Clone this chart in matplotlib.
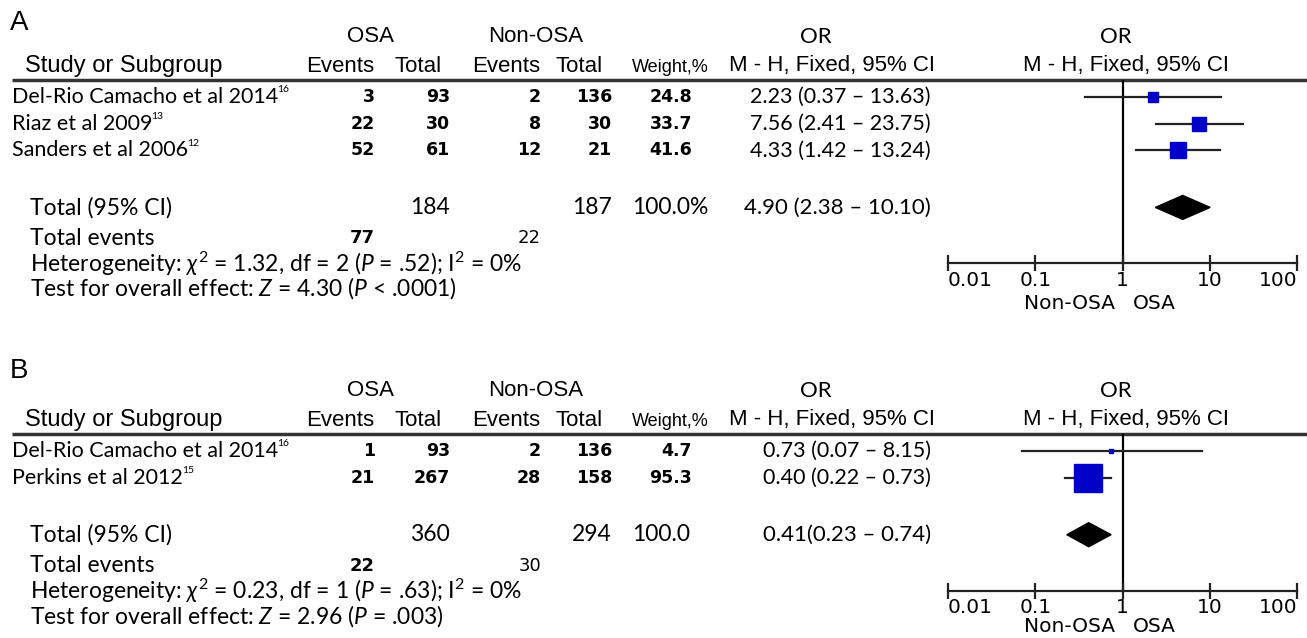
import matplotlib
matplotlib.use("Agg")
import matplotlib.pyplot as plt
import numpy as np

plt.rcParams["mathtext.fontset"] = "custom"
plt.rcParams["mathtext.rm"] = "Lato"
plt.rcParams["mathtext.it"] = "Lato:italic"
plt.rcParams["mathtext.fallback"] = "stixsans"

W, H = 1307, 638

# ---- panel A: OSA vs non-OSA ----
a_studies = ["Del-Rio Camacho et al 2014", "Riaz et al 2009", "Sanders et al 2006"]
a_refs = ["16", "13", "12"]
a_osa_events = [3, 22, 52]
a_osa_total = [93, 30, 61]
a_non_events = [2, 8, 12]
a_non_total = [136, 30, 21]
a_weight = [24.8, 33.7, 41.6]
a_or = [2.23, 7.56, 4.33]
a_lo = [0.37, 2.41, 1.42]
a_hi = [13.63, 23.75, 13.24]
a_tot_n = [184, 187]
a_tot_events = [77, 22]
a_tot_or = [4.90, 2.38, 10.10]
a_het = [1.32, 2, ".52", 0]
a_z = [4.30, "< .0001"]

# ---- panel B ----
b_studies = ["Del-Rio Camacho et al 2014", "Perkins et al 2012"]
b_refs = ["16", "15"]
b_osa_events = [1, 21]
b_osa_total = [93, 267]
b_non_events = [2, 28]
b_non_total = [136, 158]
b_weight = [4.7, 95.3]
b_or = [0.73, 0.40]
b_lo = [0.07, 0.22]
b_hi = [8.15, 0.73]
b_tot_n = [360, 294]
b_tot_events = [22, 30]
b_tot_or = [0.41, 0.23, 0.74]
b_het = [0.23, 1, ".63", 0]
b_z = [2.96, "= .003"]

ticks = [0.01, 0.1, 1, 10, 100]
tick_labels = ["0.01", "0.1", "1", "10", "100"]

HEAD = "Liberation Sans"
BODY = ["Lato", "DejaVu Sans"]
NUM = "DejaVu Sans"
BLUE = "#0000c8"

fig = plt.figure(figsize=(W / 100, H / 100), dpi=100)
bg = fig.add_axes([0, 0, 1, 1])
bg.set_xlim(0, W)
bg.set_ylim(H, 0)
bg.axis("off")
renderer = fig.canvas.get_renderer()


def panel(y0, ylet, letter, studies, refs, oe, ot, ne, nt, wt, orr, lo, hi,
          tot_n, tot_ev, tot_or, het, z, pct, tot_sep):
    # headers
    bg.text(10, ylet, letter, fontsize=20, family=HEAD, va="center")
    bg.text(370, y0 + 14, "OSA", fontsize=16, family=HEAD, ha="center", va="center")
    bg.text(536, y0 + 14, "Non-OSA", fontsize=16, family=HEAD, ha="center", va="center")
    bg.text(816, y0 + 14, "OR", fontsize=16, family=BODY, ha="center", va="center")
    bg.text(1116, y0 + 14, "OR", fontsize=16, family=BODY, ha="center", va="center")
    yh = y0 + 43
    bg.text(25, yh, "Study or Subgroup", fontsize=17, family=HEAD, va="center")
    for x, s in [(340, "Events"), (418, "Total"), (506, "Events"), (579, "Total")]:
        bg.text(x, yh, s, fontsize=16, family=HEAD, ha="center", va="center")
    bg.text(670, yh + 1, "Weight,%", fontsize=13, family=HEAD, ha="center", va="center")
    bg.text(832, yh, "M - H, Fixed, 95% CI", fontsize=16, family=HEAD, ha="center", va="center")
    bg.text(1126, yh, "M - H, Fixed, 95% CI", fontsize=16, family=HEAD, ha="center", va="center")
    yline = y0 + 57
    bg.plot([12, W], [yline, yline], color="#333333", lw=2.5, solid_capstyle="butt")

    # study rows
    rows = [y0 + 74 + i * 26.7 for i in range(len(studies))]
    for y, s, r, a, b, c, d, w, o, l, h in zip(rows, studies, refs, oe, ot, ne, nt, wt, orr, lo, hi):
        t = bg.text(12, y, s, fontsize=15.5, family=BODY, va="center")
        bb = t.get_window_extent(renderer)
        bg.text(bb.x1 - 1, y - 7, r, fontsize=7.5, family=BODY, va="center")
        for x, v in [(375, a), (450, b), (541, c), (612, d)]:
            bg.text(x, y, str(v), fontsize=12.5, family=NUM, weight="bold", ha="right", va="center")
        bg.text(692, y, f"{w:.1f}", fontsize=12.5, family=NUM, weight="bold", ha="right", va="center")
        bg.text(931, y, f"{o:.2f} ({l:.2f} \u2013 {h:.2f})", fontsize=15.5, family=BODY,
                ha="right", va="center")

    # totals
    yt = rows[-1] + 57
    bg.text(30, yt, "Total (95% CI)", fontsize=16.5, family=BODY, va="center")
    bg.text(450, yt, str(tot_n[0]), fontsize=16.5, family=BODY, ha="right", va="center")
    bg.text(612, yt, str(tot_n[1]), fontsize=16.5, family=BODY, ha="right", va="center")
    bg.text(632, yt, "100.0" + pct, fontsize=16.5, family=BODY, ha="left", va="center")
    bg.text(931, yt, f"{tot_or[0]:.2f}{tot_sep}({tot_or[1]:.2f} \u2013 {tot_or[2]:.2f})",
            fontsize=16, family=BODY, ha="right", va="center")
    ye = yt + 31
    bg.text(30, ye, "Total events", fontsize=16.5, family=BODY, va="center")
    bg.text(375, ye, str(tot_ev[0]), fontsize=13, family=NUM, weight="bold", ha="right", va="center")
    bg.text(541, ye, str(tot_ev[1]), fontsize=13, family=NUM, ha="right", va="center")
    yhet = yt + 56
    bg.text(30, yhet, rf"Heterogeneity: $\chi^2$ = {het[0]:.2f}, df = {het[1]} ($P$ = {het[2]}); I$^2$ = {het[3]}%",
            fontsize=16.5, family=BODY, va="center")
    bg.text(30, yt + 81, rf"Test for overall effect: $Z$ = {z[0]:.2f} ($P$ {z[1]})",
            fontsize=16.5, family=BODY, va="center")

    # forest plot, log odds ratio axis
    x0, x1 = 948, 1297
    fa = fig.add_axes([x0 / W, 1 - yhet / H, (x1 - x0) / W, (yhet - yline) / H])
    fa.set_xscale("log")
    fa.set_xlim(ticks[0], ticks[-1])
    fa.set_ylim(yhet, yline)
    fa.patch.set_alpha(0)
    for sp in ["left", "right", "top"]:
        fa.spines[sp].set_visible(False)
    fa.spines["bottom"].set_linewidth(1.6)
    fa.spines["bottom"].set_color("#222222")
    fa.set_yticks([])
    fa.set_xticks(ticks)
    fa.minorticks_off()
    fa.set_xticklabels(tick_labels, family="DejaVu Sans", fontsize=14.5)
    fa.tick_params(axis="x", direction="inout", length=11, width=1.6, color="#222222", pad=0)
    labs = fa.get_xticklabels()
    labs[0].set_horizontalalignment("left")
    labs[-1].set_horizontalalignment("right")
    fa.axvline(1, color="black", lw=1.6, zorder=1)

    for y, o, l, h, w in zip(rows, orr, lo, hi, wt):
        fa.plot([l, h], [y, y], color="#222222", lw=1.6, zorder=2, clip_on=False)
        side = max(0.95 * w ** 0.75, 4.5) * 0.72
        fa.plot([o], [y], marker="s", ms=side, color=BLUE, mec=BLUE, zorder=3, clip_on=False)

    dh = 12
    fa.fill([tot_or[1], tot_or[0], tot_or[2], tot_or[0]], [yt, yt - dh, yt, yt + dh],
            color="black", zorder=3)

    yl = min(yhet + 40, H - 11)
    bg.text(1115, yl, "Non-OSA", fontsize=14.5, family="DejaVu Sans", ha="right", va="center")
    bg.text(1133, yl, "OSA", fontsize=14.5, family="DejaVu Sans", ha="left", va="center")


panel(23, 23, "A", a_studies, a_refs, a_osa_events, a_osa_total, a_non_events, a_non_total,
      a_weight, a_or, a_lo, a_hi, a_tot_n, a_tot_events, a_tot_or, a_het, a_z, "%", " ")
panel(377, 371, "B", b_studies, b_refs, b_osa_events, b_osa_total, b_non_events, b_non_total,
      b_weight, b_or, b_lo, b_hi, b_tot_n, b_tot_events, b_tot_or, b_het, b_z, "", "")

fig.savefig("out.png", dpi=100)
